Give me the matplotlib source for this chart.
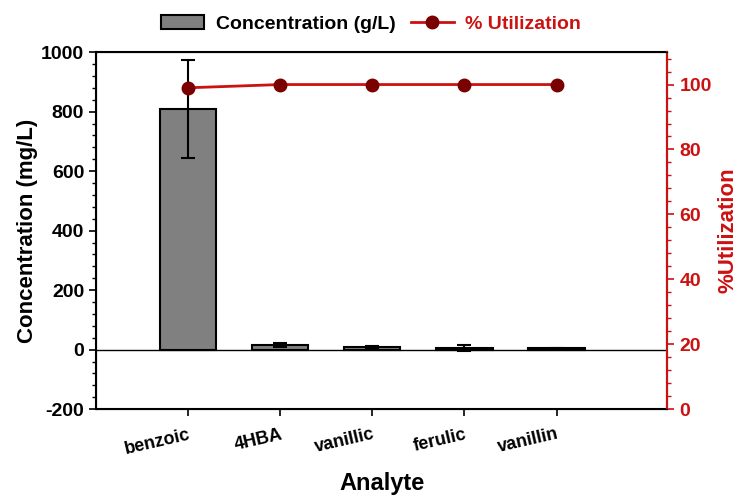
import numpy as np
import matplotlib.pyplot as plt
from matplotlib.ticker import MultipleLocator

plt.rcParams['font.family'] = ['Liberation Sans', 'DejaVu Sans']
plt.rcParams['font.weight'] = 'bold'
plt.rcParams['axes.unicode_minus'] = False

analytes = ["benzoic", "4HBA", "vanillic", "ferulic", "vanillin"]
concentration = [810, 15, 10, 7, 5]
conc_err = [165, 6, 3, 10, 2]
utilization = [99, 100, 100, 100, 100]

red = "#cc1111"
dark_red = "#7a0000"

fig = plt.figure(figsize=(7.38, 4.96), dpi=100)
ax = fig.add_axes([0.130, 0.175, 0.774, 0.720])
x = np.arange(len(analytes))

bars = ax.bar(x, concentration, width=0.61, color="#808080", edgecolor="black",
              linewidth=1.5, label="Concentration (g/L)", zorder=2)
ax.errorbar(x, concentration, yerr=conc_err, fmt="none", ecolor="black",
            elinewidth=1.5, capsize=5, capthick=1.5, zorder=3)
ax.axhline(0, color="black", linewidth=1, zorder=1)

ax.set_xlim(-1, 5.2)
ax.set_ylim(-200, 1000)
ax.yaxis.set_major_locator(MultipleLocator(200))
ax.yaxis.set_minor_locator(MultipleLocator(40))
ax.set_xticks(x)
ax.set_xticklabels(analytes, rotation=13, fontsize=13, fontweight="bold",
                   ha="right", rotation_mode="anchor")
ax.tick_params(axis="y", which="major", labelsize=14, length=5, width=1.2, direction="out")
ax.tick_params(axis="y", which="minor", length=3, width=1, direction="out")
ax.tick_params(axis="x", length=5, width=1.2, direction="out", pad=7)
ax.set_ylabel("Concentration (mg/L)", fontsize=16, fontweight="bold", labelpad=2)
ax.set_xlabel("Analyte", fontsize=17, fontweight="bold", va="center")
ax.xaxis.set_label_coords(0.5, -0.207)
for s in ax.spines.values():
    s.set_linewidth(1.5)

ax2 = ax.twinx()
line, = ax2.plot(x, utilization, color=red, linewidth=2, marker="o", markersize=9,
                 markerfacecolor=dark_red, markeredgecolor=dark_red,
                 label="% Utilization", zorder=4)
ax2.set_ylim(0, 110)
ax2.yaxis.set_major_locator(MultipleLocator(20))
ax2.yaxis.set_minor_locator(MultipleLocator(4))
ax2.tick_params(axis="y", which="major", labelsize=14, length=5, width=1.2,
                colors=red, direction="out", pad=4)
ax2.tick_params(axis="y", which="minor", length=3, width=1, colors=red, direction="out")
ax2.spines["right"].set_color(red)
ax2.spines["right"].set_linewidth(1.5)
ax2.set_ylabel("%Utilization", fontsize=16, fontweight="bold", color=red, labelpad=4)

leg = fig.legend(handles=[bars, line], loc="upper center", ncol=2, frameon=False,
                 bbox_to_anchor=(0.503, 1.005), fontsize=14, handlelength=2.2,
                 handletextpad=0.6, columnspacing=0.8)
leg.get_texts()[1].set_color(red)

fig.savefig("out.png", dpi=100)
